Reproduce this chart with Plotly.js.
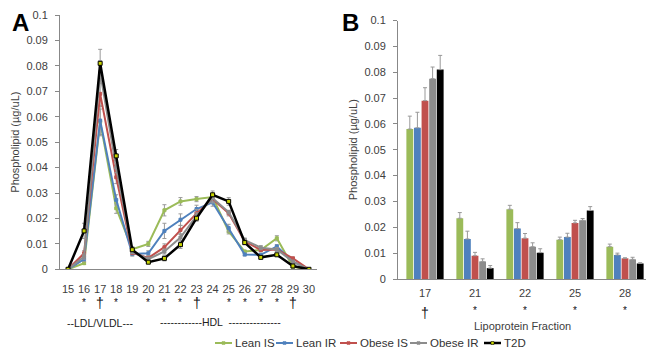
<!DOCTYPE html>
<html>
<head>
<meta charset="utf-8">
<script src="https://cdn.plot.ly/plotly-3.0.1.min.js"></script>
<style>html,body{margin:0;padding:0;background:#fff;}#chart{width:646px;height:356px;}</style>
</head>
<body>
<div id="chart"></div>
<script>
// ---- Panel A data (fractions 15..30) ----
const fractionsA = [15,16,17,18,19,20,21,22,23,24,25,26,27,28,29,30];
const seriesNames = ['Lean IS','Lean IR','Obese IS','Obese IR','T2D'];
const leanIS_A  = [0,0.0024,0.058,0.024,0.0079,0.0100,0.0232,0.0267,0.0276,0.0284,0.0149,0.0070,0.0076,0.0122,0.0010,0];
const leanIR_A  = [0,0.0040,0.0585,0.0273,0.0060,0.0063,0.0151,0.0195,0.0237,0.0263,0.0162,0.0058,0.0057,0.0090,0.0030,0];
const obeseIS_A = [0,0.0063,0.069,0.0362,0.0065,0.0045,0.0087,0.0155,0.0220,0.0276,0.0220,0.0110,0.0076,0.0078,0.0043,0];
const obeseIR_A = [0,0.0050,0.0775,0.0400,0.0070,0.0040,0.0070,0.0125,0.0210,0.0280,0.0225,0.0115,0.0085,0.0078,0.0030,0];
const t2d_A     = [0,0.0151,0.081,0.0446,0.0077,0.0028,0.0043,0.0097,0.0201,0.0293,0.0267,0.0105,0.0047,0.0057,0.0013,0];
const leanIS_Aerr  = [0,0.0005,0.005,0.002,0.001,0.001,0.0022,0.0015,0.001,0.001,0.001,0.0005,0.0005,0.001,0.0005,0];
const leanIR_Aerr  = [0,0.001,0.006,0.002,0.0008,0.001,0.003,0.0023,0.0015,0.0015,0.0015,0.0005,0.0005,0.0007,0.0005,0];
const obeseIS_Aerr = [0,0.001,0.005,0.0025,0.0008,0.0008,0.0013,0.0018,0.0015,0.0015,0.001,0.001,0.0008,0.0002,0.0005,0];
const obeseIR_Aerr = [0,0.001,0.0045,0.002,0.0008,0.0008,0.001,0.0015,0.0012,0.0015,0.0007,0.0008,0.0008,0.0008,0.0005,0];
const t2d_Aerr     = [0,0.003,0.0055,0.0025,0.001,0.0005,0.001,0.0015,0.0012,0.0015,0.0015,0.0008,0.0005,0.0003,0.0003,0];
const sigA = ['','*','†','*','','*','*','*','†','','*','*','*','*','†',''];

// ---- Panel B data ----
const fractionsB = ['17','21','22','25','28'];
const leanIS_B  = [0.058,0.0235,0.027,0.0152,0.0125];
const leanIR_B  = [0.0585,0.0155,0.0195,0.0162,0.0093];
const obeseIS_B = [0.069,0.009,0.0158,0.0217,0.0080];
const obeseIR_B = [0.0775,0.0068,0.0125,0.0227,0.0076];
const t2d_B     = [0.081,0.0042,0.0102,0.0265,0.0060];
const leanIS_Berr  = [0.005,0.0022,0.0015,0.001,0.001];
const leanIR_Berr  = [0.006,0.003,0.0023,0.0015,0.0007];
const obeseIS_Berr = [0.005,0.0013,0.0018,0.001,0.0002];
const obeseIR_Berr = [0.0045,0.001,0.0015,0.0007,0.0008];
const t2d_Berr     = [0.0055,0.001,0.0015,0.0015,0.0003];
const sigB = ['†','*','*','*','*'];

const yTickVals = [0,0.01,0.02,0.03,0.04,0.05,0.06,0.07,0.08,0.09,0.1];
const yTickText = ['0','0.01','0.02','0.03','0.04','0.05','0.06','0.07','0.08','0.09','0.1'];

// ---- styles / layout constants ----
const colors = ['#9BBB59','#4F81BD','#C0504D','#8C8C8C','#000000'];
const markerFill = ['#9BBB59','#4F81BD','#C0504D','#8C8C8C','#C8D400'];
const legendLineStart = [215, 276, 340, 410, 484]; // pixel positions of manual legend
const legendY = 343;
const W = 646, H = 356;
const px = v => v / W, py = v => 1 - v / H;

const A = [leanIS_A, leanIR_A, obeseIS_A, obeseIR_A, t2d_A];
const Aerr = [leanIS_Aerr, leanIR_Aerr, obeseIS_Aerr, obeseIR_Aerr, t2d_Aerr];
const B = [leanIS_B, leanIR_B, obeseIS_B, obeseIR_B, t2d_B];
const Berr = [leanIS_Berr, leanIR_Berr, obeseIS_Berr, obeseIR_Berr, t2d_Berr];

const traces = [];
for (let i = 0; i < 5; i++) {
  traces.push({
    type: 'scatter', mode: 'lines+markers', name: seriesNames[i],
    x: fractionsA, y: A[i], xaxis: 'x', yaxis: 'y',
    line: {color: colors[i], width: i === 4 ? 2.5 : 2},
    marker: {symbol: 'square', size: i === 4 ? 4 : 3, color: markerFill[i], line: {color: colors[i], width: 1}},
    error_y: {type: 'data', array: Aerr[i], visible: true, color: '#999999', thickness: 1, width: 2},
    showlegend: false
  });
}
for (let i = 0; i < 5; i++) {
  traces.push({
    type: 'bar', name: seriesNames[i], x: fractionsB, y: B[i], xaxis: 'x2', yaxis: 'y2',
    marker: {color: colors[i], line: {width: 0}},
    error_y: {type: 'data', array: Berr[i], arrayminus: B[i].map(() => 0), symmetric: false, visible: true, color: '#999999', thickness: 1, width: 2},
    showlegend: false
  });
}

const txtFont = (size, color) => ({family: 'Liberation Sans, Arial, sans-serif', size: size, color: color || '#333'});
const tickFont = txtFont(11, '#404040');
const annotations = [
  {text: '<b>A</b>', x: px(20), y: py(23), font: txtFont(24, '#000')},
  {text: '<b>B</b>', x: px(351), y: py(23), font: txtFont(24, '#000')},
  {text: '--LDL/VLDL---', x: px(100), y: py(323), font: txtFont(10.5, '#222')},
  {text: '------------HDL  ---------------', x: px(220), y: py(322), font: txtFont(10.5, '#222')},
  {text: 'Lipoprotein Fraction', x: px(522), y: py(326), font: txtFont(11, '#404040')}
].map(a => Object.assign({xref: 'paper', yref: 'paper', showarrow: false, xanchor: 'center', yanchor: 'middle'}, a));

sigA.forEach((s, i) => {
  if (s) annotations.push({text: s, x: fractionsA[i], y: s === '†' ? py(303) : py(302), xref: 'x', yref: 'paper',
    showarrow: false, xanchor: 'center', yanchor: 'middle', font: txtFont(s === '†' ? 14 : 10, '#111')});
});
sigB.forEach((s, i) => {
  annotations.push({text: s, x: i, y: s === '†' ? py(313) : py(310), xref: 'x2', yref: 'paper',
    showarrow: false, xanchor: 'center', yanchor: 'middle', font: txtFont(s === '†' ? 14 : 10, '#111')});
});

// manual legend
const shapes = [];
seriesNames.forEach((n, i) => {
  const x0 = legendLineStart[i], x1 = x0 + 17;
  shapes.push({type: 'line', xref: 'paper', yref: 'paper', x0: px(x0), x1: px(x1), y0: py(legendY), y1: py(legendY),
    line: {color: colors[i], width: i === 4 ? 2.5 : 2}});
  shapes.push({type: 'rect', xref: 'paper', yref: 'paper', x0: px(x0 + 7), x1: px(x0 + 10), y0: py(legendY - 1.5), y1: py(legendY + 1.5),
    fillcolor: markerFill[i], line: {color: colors[i], width: 0.5}});
  annotations.push({text: n, x: px(x1 + 1), y: py(legendY), xref: 'paper', yref: 'paper', showarrow: false,
    xanchor: 'left', yanchor: 'middle', font: txtFont(11.5, '#333')});
});

const yAxisCommon = {range: [0, 0.1], tickvals: yTickVals, ticktext: yTickText,
  showline: true, linecolor: '#888', linewidth: 1, ticks: 'outside', ticklen: 4, tickcolor: '#888',
  showgrid: false, zeroline: false, tickfont: tickFont, ticklabelstandoff: 5, automargin: false};

const layout = {
  width: W, height: H,
  margin: {l: 0, r: 0, t: 0, b: 0, autoexpand: false},
  paper_bgcolor: '#fff', plot_bgcolor: '#fff',
  font: {family: 'Liberation Sans, Arial, sans-serif', size: 11, color: '#404040'},
  showlegend: false,
  barmode: 'group', bargap: 0.24, bargroupgap: 0.1,
  xaxis: {domain: [px(60), px(317)], range: [14.5, 30.5], tickvals: fractionsA, ticktext: fractionsA.map(String),
    showline: true, linecolor: '#888', linewidth: 1, ticks: '', showgrid: false, zeroline: false, tickfont: tickFont,
    anchor: 'y', ticklabelstandoff: 9, automargin: false},
  yaxis: Object.assign({}, yAxisCommon, {domain: [py(269.3), py(15)], anchor: 'x',
    title: {text: 'Phospholipid (µg/uL)', font: {size: 11, color: '#404040'}, standoff: 4}}),
  xaxis2: {domain: [px(398), 1], type: 'category', range: [-0.54, 4.42],
    showline: true, linecolor: '#888', linewidth: 1, ticks: '', showgrid: false, zeroline: false, tickfont: tickFont,
    anchor: 'y2', ticklabelstandoff: 4, automargin: false},
  yaxis2: Object.assign({}, yAxisCommon, {domain: [py(279), py(20.5)], anchor: 'x2',
    title: {text: 'Phospholipid (µg/uL)', font: {size: 11, color: '#404040'}, standoff: 4}}),
  annotations: annotations,
  shapes: shapes
};

Plotly.newPlot('chart', traces, layout, {displayModeBar: false, staticPlot: true});
</script>
</body>
</html>
